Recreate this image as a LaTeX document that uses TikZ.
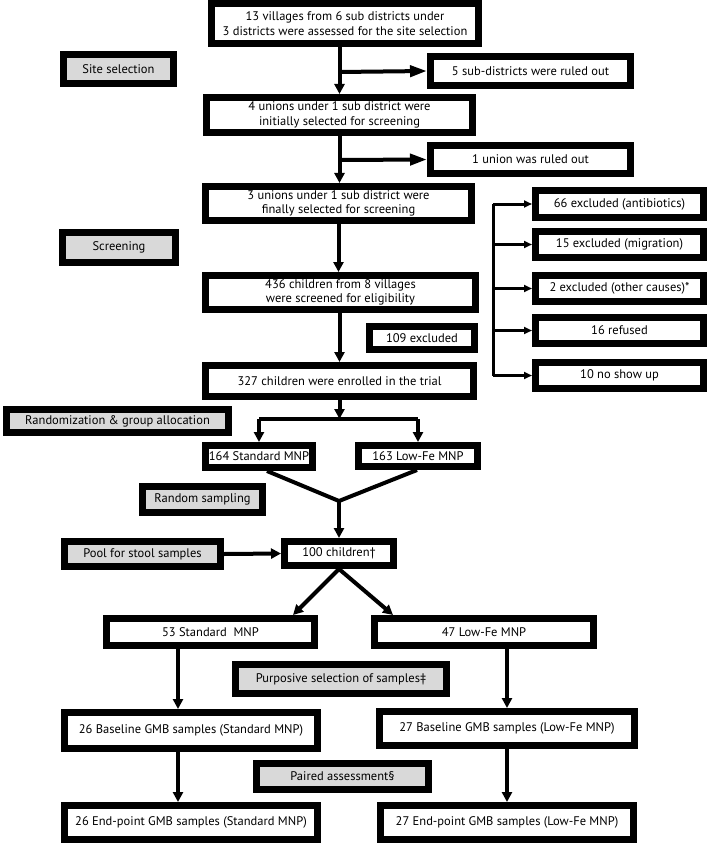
\documentclass[tikz,border=0pt]{standalone}
\usepackage{fontspec}
\setmainfont{PT Sans}
\usetikzlibrary{arrows.meta,calc}
\definecolor{boxgray}{HTML}{D9D9D9}
\def\bw{7}
\begin{document}
\begin{tikzpicture}[x=1pt,y=-1pt,
  font=\fontsize{12.5}{14.5}\selectfont,
  box/.style={draw=black,line width=\bw pt,fill=white,inner sep=0pt,outer sep=3.5pt,align=center},
  gbox/.style={box,fill=boxgray},
  dims/.style 2 args={minimum width=#1-\bw,minimum height=#2-\bw},
  conn/.style={line width=4pt},
  arr/.style={conn,-{Triangle[length=10pt,width=10pt]}},
  bigarr/.style={conn,-{Triangle[length=17pt,width=11pt]}},
  smallarr/.style={line width=3pt,-{Triangle[length=8pt,width=7pt]}}]
\useasboundingbox (0,0) rectangle (708,845);
% main column
\node[box,dims={274}{47}] (top) at (345,23.5) {13 villages from 6 sub districts under\\3 districts were assessed for the site selection};
\node[gbox,dims={117}{36}] (site) at (118.5,69) {Site selection};
\node[box,dims={207}{36}] (sub5) at (530.5,71) {5 sub-districts were ruled out};
\node[box,dims={273}{42}] (box2) at (339.5,115) {4 unions under 1 sub district were\\initially selected for screening};
\node[box,dims={207}{35}] (union1) at (530.5,159.5) {1 union was ruled out};
\node[box,dims={273}{41}] (box3) at (338.5,203.5) {3 unions under 1 sub district were\\finally selected for screening};
\node[gbox,dims={120}{37}] (screen) at (119,247.5) {Screening};
\node[box,dims={277}{41}] (box436) at (340.5,292.5) {436 children from 8 villages\\were screened for eligibility};
\node[box,dims={112}{30}] (ex109) at (422,338) {109 excluded};
\node[box,dims={275}{38}] (box327) at (339.5,381) {327 children were enrolled in the trial};
% right exclusions
\node[box,dims={175}{34}] (ex66) at (619.5,204) {66 excluded (antibiotics)};
\node[box,dims={175}{33}] (ex15) at (619.5,244.5) {15 excluded (migration)};
\node[box,dims={175}{33}] (ex2) at (619.5,288.5) {2 excluded (other causes)*};
\node[box,dims={175}{33}] (ex16) at (619.5,330.5) {16 refused};
\node[box,dims={175}{33}] (ex10) at (619.5,375.5) {10 no show up};
% randomization
\node[gbox,dims={229}{30}] (rand) at (117.5,421) {Randomization \& group allocation};
\node[box,dims={114}{29}] (s164) at (259,456.5) {164 Standard MNP};
\node[box,dims={126}{28}] (l163) at (418,456) {163 Low-Fe MNP};
\node[gbox,dims={127}{33}] (rsamp) at (202.5,499.5) {Random sampling};
\node[gbox,dims={163}{32}] (pool) at (142.5,554) {Pool for stool samples};
\node[box,dims={116}{31}] (c100) at (339,553.5) {100 children\textdagger};
\node[box,dims={215}{34}] (s53) at (210.5,632) {53 Standard\ \ MNP};
\node[box,dims={226}{34}] (l47) at (484,632) {47 Low-Fe MNP};
\node[gbox,dims={218}{36}] (purp) at (341,679) {Purposive selection of samples\textdaggerdbl};
\node[box,dims={260}{43}] (b26) at (191,730.5) {26 Baseline GMB samples (Standard MNP)};
\node[box,dims={262}{41}] (b27) at (507,728.5) {27 Baseline GMB samples (Low-Fe MNP)};
\node[gbox,dims={179}{33}] (paired) at (342.5,776.5) {Paired assessment\S};
\node[box,dims={260}{41}] (e26) at (191,822.5) {26 End-point GMB samples (Standard MNP)};
\node[box,dims={260}{41}] (e27) at (507,822.5) {27 End-point GMB samples (Low-Fe MNP)};
% coordinates
\coordinate (j1) at (339.5,72);
\coordinate (j2) at (339.5,160);
\coordinate (bx) at (493,0);
\coordinate (sp) at (339.5,419);
\coordinate (jv) at (339,501);
\coordinate (ax) at (178,0);
% connectors top
\draw[arr] (top.south -| box2.north) -- (box2.north);
\draw[bigarr] (j1) -- (sub5.west);
\draw[arr] (box2.south) -- (box3.north -| box2.south);
\draw[bigarr] (j2) -- (union1.west);
\draw[arr] (box3.south) -- (box436.north -| box3.south);
\draw[arr] (box436.south -| box327.north) -- (box327.north);
% right branch
\draw[line width=3pt] (ex66.west -| bx) -- (ex10.west -| bx);
\foreach \n in {ex66,ex15,ex2,ex16,ex10}
  \draw[smallarr] (\n.west -| bx) -- (\n.west);
% split
\draw[arr] (box327.south) -- (sp);
\draw[conn] (sp -| s164.north) -- (sp -| l163.north);
\draw[arr] (sp -| s164.north) -- (s164.north);
\draw[arr] (sp -| l163.north) -- (l163.north);
% merge
\draw[conn,line join=miter] ($(s164.south)+(8,0)$) -- (jv) -- ($(l163.south)+(-1,0)$);
\draw[arr] (jv) -- (c100.north);
\draw[arr] (pool.east) -- (c100.west);
% split 2
\draw[arr] (c100.south) -- ($(s53.north east)+(-25,0)$);
\draw[arr] (c100.south) -- ($(l47.north west)+(22,0)$);
% bottom
\draw[arr] (s53.south -| ax) -- (b26.north -| ax);
\draw[arr] (l47.south -| b27.north) -- (b27.north);
\draw[arr] (b26.south -| ax) -- (e26.north -| ax);
\draw[arr] (b27.south) -- (e27.north);
\end{tikzpicture}
\end{document}
